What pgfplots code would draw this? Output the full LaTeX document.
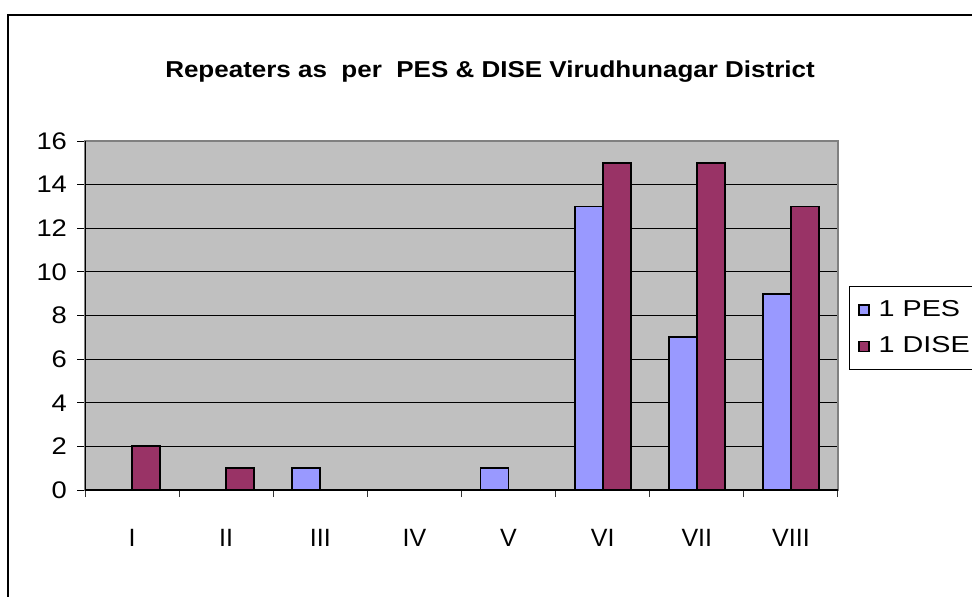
\documentclass[border=0pt]{standalone}
\usepackage{fontspec}
\setmainfont{Liberation Sans}
\usepackage{graphicx}
\usepackage{pgfplots}
\pgfplotsset{compat=1.18}
\definecolor{pes}{HTML}{9999FF}
\definecolor{dise}{HTML}{993366}
\definecolor{plotbg}{HTML}{C0C0C0}
\newcommand{\sx}[2][1.15]{\scalebox{#1}[1]{#2}}
\begin{document}
\begin{tikzpicture}[x=1pt,y=1pt]
\useasboundingbox (0,0) rectangle (486,298);
\begin{scope}
\clip (0,0) rectangle (486,298);
\fill[white] (0,0) rectangle (486,298);
\draw[line width=1pt] (4,-20) rectangle (520,290.5);
\node[font=\bfseries\fontsize{11.5}{13}\selectfont] at (245,262) {\sx[1.13]{Repeaters as\ \ per\ \ PES \& DISE Virudhunagar District}};
\begin{axis}[
  at={(42.5pt,53pt)}, anchor=south west,
  scale only axis, width=376.5pt, height=174.5pt,
  ybar=0pt, bar width=14pt,
  xmin=0.5, xmax=8.5, ymin=0, ymax=16,
  xtick={1,...,8},
  xticklabels={I,II,III,IV,V,VI,VII,VIII},
  minor xtick={0.5,1.5,...,8.5},
  ytick={0,2,...,16},
  xtick pos=left, ytick pos=left,
  major x tick style={draw=none},
  minor x tick style={black!80, line width=0.5pt},
  major y tick style={black, line width=0.5pt},
  tick align=outside,
  major tick length=4pt, minor tick length=3.5pt,
  ymajorgrids, grid style={black, line width=0.5pt},
  axis line style={draw=gray, line width=0.6pt},
  axis background/.style={fill=plotbg},
  /pgf/number format/assume math mode=true,
  yticklabel style={font=\fontsize{12}{14}\selectfont, xshift=-1.5pt},
  yticklabel={\sx[1.14]{\pgfmathprintnumber{\tick}}},
  xticklabel style={font=\fontsize{12.5}{14}\selectfont, yshift=-12pt},
  legend style={at={(1.0146,0.5845)}, anchor=north west, draw=black, line width=0.5pt,
    fill=white, font=\fontsize{11.5}{12}\selectfont, inner xsep=4.5pt, inner ysep=5pt,
    row sep=4.5pt, legend cell align=left},
  legend image code/.code={\draw[#1, line width=0.6pt] (0pt,-2.5pt) rectangle (5pt,2.5pt);},
]
\addplot[fill=pes, draw=black, line width=0.9pt] coordinates {(3,1) (5,1) (6,13) (7,7) (8,9)};
\addplot[fill=dise, draw=black, line width=0.9pt] coordinates {(1,2) (2,1) (6,15) (7,15) (8,13)};
\legend{\makebox[60pt][l]{\hspace{2.5pt}\sx[1.25]{1 PES}},\makebox[60pt][l]{\hspace{2.5pt}\sx[1.25]{1 DISE}}}
\draw[black, line width=0.6pt] (rel axis cs:0,1) -- (rel axis cs:0,0) -- (rel axis cs:1,0);
\end{axis}
\end{scope}
\end{tikzpicture}
\end{document}
